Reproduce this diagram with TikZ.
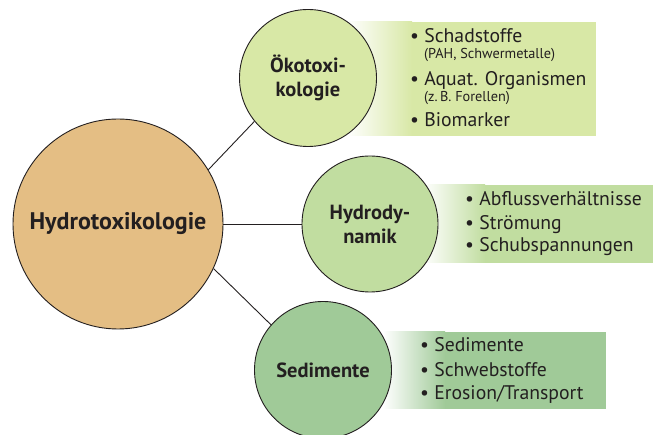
\documentclass[tikz,border=0pt]{standalone}
\usepackage{fontspec}
\setmainfont{PT Sans}
\usepackage{tikz}
\usetikzlibrary{calc}
\definecolor{hauptbraun}{HTML}{E4BE84}
\definecolor{oekogruen}{HTML}{D8E8A6}
\definecolor{hydrogruen}{HTML}{C1DDA0}
\definecolor{sedigruen}{HTML}{A0CA98}
\definecolor{schrift}{HTML}{231F20}

\tikzset{
  kreis/.style={draw=schrift,line width=0.9pt,circle,inner sep=0pt,align=center,
    text=schrift,font=\fontsize{20.5}{24}\selectfont\bfseries},
  punkt/.style={anchor=base west,inner sep=0pt,text=schrift,font=\fontsize{19.7}{23}\selectfont},
  klein/.style={anchor=base west,inner sep=0pt,text=schrift,font=\fontsize{14.3}{17}\selectfont},
  linie/.style={draw=schrift,line width=0.9pt}
}

\begin{document}
\begin{tikzpicture}[x=1pt,y=-1pt]
\useasboundingbox (0,0) rectangle (657,435);

% Kaesten mit Verlauf
\shade[left color=white,right color=oekogruen] (347,22) rectangle (412,136);
\fill[oekogruen] (411.5,22) rectangle (596,136);
\shade[left color=white,right color=hydrogruen] (423,185) rectangle (485,263);
\fill[hydrogruen] (484.5,185) rectangle (653,263);
\shade[left color=white,right color=sedigruen] (383,332) rectangle (445,409);
\fill[sedigruen] (444.5,332) rectangle (606,409);

% Kreise
\node[kreis,fill=hauptbraun,minimum size=210,font=\fontsize{24}{28}\selectfont\bfseries] (hydrotox) at (118,224) {Hydrotoxikologie};
\node[kreis,fill=oekogruen,minimum size=137] (oeko) at (308,78) {Ökotoxi-\\kologie};
\node[kreis,fill=hydrogruen,minimum size=136] (hydro) at (370,224) {Hydrody-\\namik};
\node[kreis,fill=sedigruen,minimum size=137] (sedi) at (323,370) {Sedimente};

\draw[linie] (hydrotox.31.6) -- (oeko.219.7);
\draw[linie] (hydrotox.east) -- (hydro.west);
\draw[linie] (hydrotox.-25.8) -- (sedi.139.7);

% Stichpunkte
\node[punkt] (schad) at (410,43) {\textbullet\ Schadstoffe};
\node[klein] (schadzus) at (424,59) {(PAH, Schwermetalle)};
\node[punkt] (aquat) at (410,86) {\textbullet\ Aquat. Organismen};
\node[klein] (aquatzus) at (424,102) {(z.\,B. Forellen)};
\node[punkt] (bio) at (410,127) {\textbullet\ Biomarker};

\foreach \t/\y [count=\i] in {Abflussverhältnisse/206,Strömung/230,Schubspannungen/252}
  \node[punkt] (hydroliste\i) at (465,\y) {\textbullet\ \t};

\foreach \t/\y [count=\i] in {Sedimente/352,Schwebstoffe/377,{Erosion/Transport}/400}
  \node[punkt] (sediliste\i) at (420,\y) {\textbullet\ \t};
\end{tikzpicture}
\end{document}
